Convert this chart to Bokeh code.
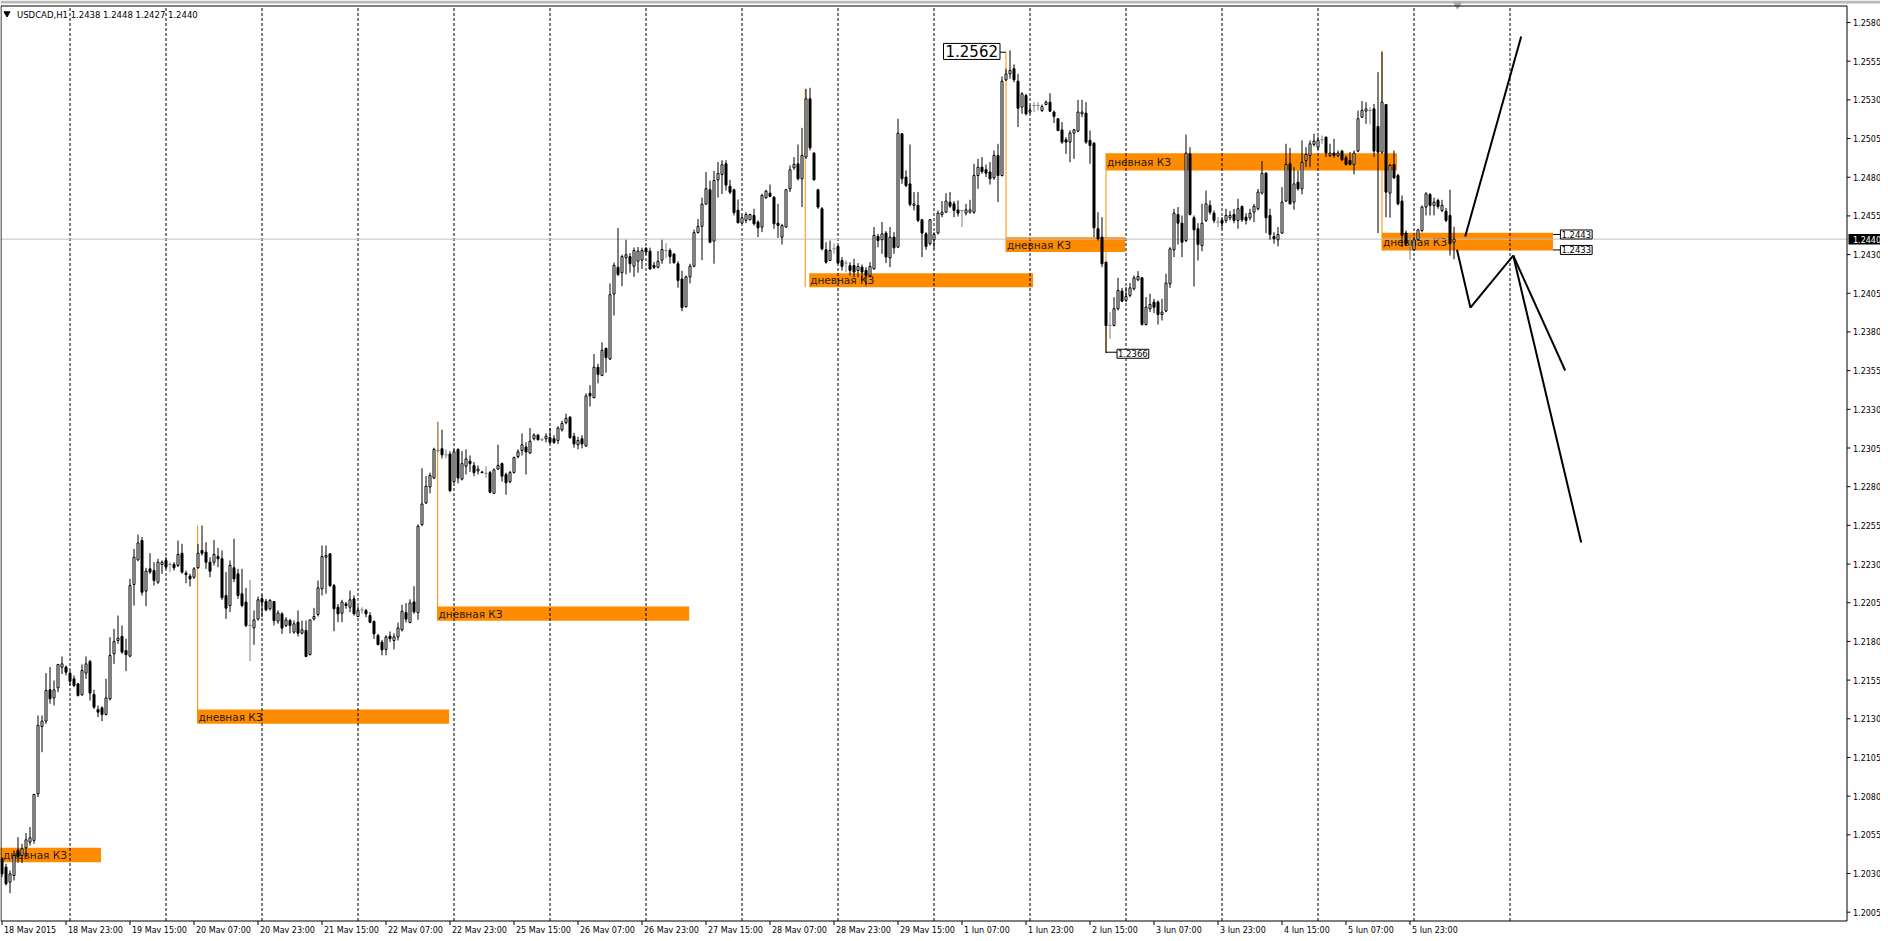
from bokeh.plotting import figure
from bokeh.models import Range1d, Label
from bokeh.embed import file_html
from bokeh.resources import INLINE
from bokeh.core.properties import value

# ---------------- data: USDCAD H1, bar index 0 = 18 May 2015 07:00 ----------------
OPEN = [
1.20395,1.20341,1.20244,1.20287,1.20450,1.20417,1.20466,1.20503,1.20514,1.20815,
1.21250,1.21285,1.21487,1.21435,1.21500,1.21634,1.21634,1.21595,1.21558,1.21526,
1.21455,1.21595,1.21670,1.21457,1.21360,1.21371,1.21328,1.21429,1.21720,1.21806,
1.21832,1.21741,1.21705,1.22168,1.22327,1.22452,1.22125,1.22269,1.22258,1.22183,
1.22297,1.22323,1.22297,1.22297,1.22291,1.22370,1.22241,1.22222,1.22215,1.22276,
1.22388,1.22377,1.22312,1.22312,1.22349,1.22334,1.22097,1.22032,1.22276,1.22237,
1.22108,1.22054,1.21903,1.21888,1.21944,1.22075,1.22058,1.22011,1.22058,1.21931,
1.21978,1.21903,1.21935,1.21860,1.21924,1.21853,1.21871,1.21715,1.21946,1.21974,
1.22140,1.22344,1.22366,1.22161,1.22021,1.21983,1.22043,1.22021,1.22075,1.21961,
1.22004,1.22000,1.21967,1.21929,1.21838,1.21795,1.21748,1.21834,1.21806,1.21829,
1.21875,1.21986,1.21922,1.22055,1.21986,1.22556,1.22695,1.22799,1.22856,1.23034,
1.23045,1.23006,1.23011,1.22833,1.23041,1.22849,1.22932,1.22965,1.22937,1.22902,
1.22895,1.22886,1.22891,1.22757,1.22914,1.22949,1.22879,1.22833,1.22891,1.22995,
1.23034,1.23057,1.23018,1.23110,1.23133,1.23103,1.23110,1.23117,1.23110,1.23099,
1.23168,1.23214,1.23249,1.23126,1.23071,1.23110,1.23064,1.23403,1.23376,1.23572,
1.23519,1.23694,1.23625,1.24045,1.24218,1.24183,1.24280,1.24287,1.24225,1.24257,
1.24264,1.24340,1.24322,1.24230,1.24218,1.24264,1.24326,1.24326,1.24303,1.24241,
1.24142,1.23964,1.24156,1.24225,1.24442,1.24483,1.24626,1.24719,1.24387,1.24783,
1.24818,1.24887,1.24742,1.24719,1.24587,1.24503,1.24521,1.24525,1.24553,1.24510,
1.24478,1.24667,1.24697,1.24671,1.24503,1.24413,1.24478,1.24725,1.24861,1.24887,
1.24790,1.24930,1.25307,1.24956,1.24719,1.24596,1.24331,1.24262,1.24337,1.24353,
1.24262,1.24245,1.24228,1.24230,1.24197,1.24219,1.24197,1.24165,1.24208,1.24417,
1.24396,1.24439,1.24279,1.24413,1.24348,1.25081,1.24801,1.24757,1.24618,1.24618,
1.24525,1.24434,1.24370,1.24396,1.24439,1.24559,1.24574,1.24639,1.24628,1.24589,
1.24585,1.24568,1.24574,1.24574,1.24811,1.24865,1.24848,1.24833,1.24796,1.24941,
1.24811,1.25429,1.25468,1.25501,1.25421,1.25253,1.25328,1.25221,1.25264,1.25264,
1.25231,1.25270,1.25285,1.25221,1.25178,1.25106,1.25042,1.25027,1.25085,1.25098,
1.25210,1.25214,1.25038,1.25020,1.24467,1.24413,1.24251,1.23842,1.23842,1.23950,
1.24064,1.24004,1.24036,1.24079,1.24137,1.24150,1.23848,1.23950,1.23993,1.23993,
1.23913,1.23935,1.24111,1.24331,1.24559,1.24503,1.24391,1.24951,1.24538,1.24467,
1.24359,1.24521,1.24618,1.24568,1.24510,1.24521,1.24521,1.24538,1.24559,1.24521,
1.24611,1.24542,1.24538,1.24574,1.24596,1.24697,1.24826,1.24553,1.24417,1.24396,
1.24439,1.24646,1.24887,1.24639,1.24768,1.24725,1.24908,1.24941,1.25012,1.24994,
1.25042,1.25059,1.24941,1.24956,1.24941,1.24969,1.24926,1.24908,1.24883,1.24969,
1.25188,1.25227,1.25231,1.25242,1.25128,1.24962,1.25270,1.24697,1.24882,1.24811,
1.24646,1.24439,1.24380,1.24331,1.24396,1.24456,1.24607,1.24689,1.24618,1.24650,
1.24585,1.24581,1.24553,1.24380]
HIGH = [
1.20406,1.20363,1.20319,1.20449,1.20535,1.20492,1.20561,1.20600,1.20815,1.21321,
1.21321,1.21595,1.21634,1.21547,1.21651,1.21703,1.21644,1.21612,1.21580,1.21530,
1.21651,1.21703,1.21681,1.21487,1.21386,1.21380,1.21558,1.21827,1.21881,1.21967,
1.21903,1.21817,1.22204,1.22398,1.22491,1.22474,1.22276,1.22370,1.22312,1.22334,
1.22323,1.22344,1.22312,1.22312,1.22452,1.22431,1.22258,1.22237,1.22280,1.22430,
1.22549,1.22441,1.22344,1.22456,1.22405,1.22388,1.22248,1.22323,1.22463,1.22269,
1.22269,1.22146,1.22198,1.22000,1.22090,1.22103,1.22075,1.22075,1.22060,1.22000,
1.21989,1.21957,1.21946,1.21935,1.22000,1.21935,1.21935,1.21939,1.22017,1.22194,
1.22420,1.22420,1.22370,1.22172,1.22043,1.22069,1.22054,1.22129,1.22097,1.22026,
1.22021,1.22011,1.21989,1.21935,1.21849,1.21810,1.21840,1.21864,1.21852,1.21922,
1.22037,1.22048,1.22072,1.22157,1.22556,1.22919,1.22868,1.22891,1.23052,1.23219,
1.23168,1.23041,1.23029,1.23041,1.23048,1.23030,1.23041,1.23002,1.22960,1.22937,
1.22902,1.22932,1.22902,1.22918,1.23071,1.22956,1.22891,1.22902,1.22995,1.23041,
1.23145,1.23087,1.23179,1.23145,1.23140,1.23117,1.23145,1.23179,1.23133,1.23191,
1.23226,1.23272,1.23256,1.23149,1.23122,1.23133,1.23403,1.23456,1.23657,1.23595,
1.23733,1.23699,1.24114,1.24248,1.24472,1.24299,1.24396,1.24310,1.24345,1.24349,
1.24345,1.24349,1.24345,1.24253,1.24322,1.24396,1.24373,1.24340,1.24310,1.24257,
1.24195,1.24165,1.24241,1.24461,1.24530,1.24668,1.24834,1.24779,1.24841,1.24899,
1.24910,1.24910,1.24783,1.24726,1.24656,1.24553,1.24574,1.24564,1.24596,1.24521,
1.24693,1.24719,1.24753,1.24676,1.24628,1.24499,1.24725,1.24876,1.24930,1.25012,
1.25119,1.25371,1.25378,1.24962,1.24725,1.24607,1.24380,1.24391,1.24370,1.24359,
1.24284,1.24262,1.24251,1.24273,1.24245,1.24236,1.24219,1.24251,1.24478,1.24434,
1.24510,1.24452,1.24478,1.24445,1.25178,1.25085,1.24844,1.25012,1.24704,1.24704,
1.24531,1.24445,1.24531,1.24445,1.24585,1.24646,1.24697,1.24704,1.24646,1.24650,
1.24589,1.24628,1.24654,1.24887,1.24919,1.24930,1.24882,1.24898,1.24973,1.25016,
1.25451,1.25501,1.25620,1.25529,1.25468,1.25350,1.25339,1.25264,1.25285,1.25285,
1.25270,1.25296,1.25343,1.25231,1.25178,1.25156,1.25059,1.25102,1.25113,1.25300,
1.25300,1.25285,1.25102,1.25027,1.24574,1.24542,1.24251,1.23928,1.24025,1.24150,
1.24085,1.24090,1.24116,1.24165,1.24193,1.24154,1.24025,1.24047,1.24014,1.24004,
1.24014,1.24176,1.24348,1.24596,1.24607,1.24553,1.25076,1.24994,1.24553,1.24503,
1.24628,1.24714,1.24650,1.24585,1.24542,1.24542,1.24596,1.24581,1.24596,1.24661,
1.24618,1.24568,1.24596,1.24628,1.24725,1.24904,1.24833,1.24596,1.24445,1.24478,
1.24736,1.25016,1.24990,1.24865,1.24844,1.25038,1.24994,1.25038,1.25081,1.25063,
1.25070,1.25063,1.25016,1.25048,1.24973,1.24977,1.24941,1.24962,1.24973,1.25231,
1.25292,1.25285,1.25253,1.25274,1.25479,1.25610,1.25274,1.24887,1.24973,1.24822,
1.24682,1.24456,1.24424,1.24413,1.24467,1.24618,1.24704,1.24697,1.24667,1.24661,
1.24654,1.24602,1.24719,1.24480]
LOW = [
1.20277,1.20223,1.20173,1.20255,1.20370,1.20367,1.20406,1.20481,1.20492,1.20794,
1.21084,1.21267,1.21397,1.21386,1.21472,1.21590,1.21580,1.21515,1.21504,1.21444,
1.21448,1.21558,1.21418,1.21364,1.21311,1.21285,1.21321,1.21418,1.21655,1.21784,
1.21720,1.21608,1.21698,1.22032,1.22319,1.22097,1.22028,1.22237,1.22161,1.22172,
1.22237,1.22269,1.22248,1.22258,1.22280,1.22237,1.22176,1.22155,1.22204,1.22269,
1.22355,1.22269,1.22215,1.22291,1.22280,1.22069,1.21946,1.21989,1.22183,1.22075,
1.22021,1.21892,1.21672,1.21778,1.21935,1.21957,1.21995,1.22000,1.21903,1.21914,
1.21849,1.21892,1.21853,1.21849,1.21832,1.21845,1.21698,1.21709,1.21935,1.21961,
1.22097,1.22108,1.22151,1.21866,1.21924,1.21924,1.22011,1.21989,1.21967,1.21957,
1.21978,1.21957,1.21918,1.21817,1.21774,1.21710,1.21710,1.21795,1.21748,1.21806,
1.21864,1.21922,1.21917,1.21979,1.21940,1.22545,1.22688,1.22757,1.22849,1.23018,
1.22983,1.22983,1.22764,1.22822,1.22822,1.22840,1.22879,1.22895,1.22868,1.22879,
1.22886,1.22856,1.22757,1.22752,1.22909,1.22833,1.22748,1.22822,1.22886,1.22983,
1.23002,1.22879,1.23011,1.23099,1.23099,1.23094,1.23087,1.23076,1.23076,1.23076,
1.23156,1.23203,1.23110,1.23052,1.23041,1.23048,1.23057,1.23318,1.23371,1.23468,
1.23514,1.23537,1.23618,1.23906,1.24161,1.24096,1.24172,1.24183,1.24156,1.24183,
1.24207,1.24299,1.24202,1.24207,1.24211,1.24241,1.24276,1.24241,1.24241,1.24086,
1.23934,1.23957,1.24114,1.24218,1.24437,1.24264,1.24622,1.24373,1.24241,1.24668,
1.24691,1.24714,1.24691,1.24553,1.24502,1.24499,1.24503,1.24521,1.24488,1.24413,
1.24445,1.24661,1.24671,1.24467,1.24409,1.24365,1.24473,1.24704,1.24848,1.24779,
1.24607,1.24919,1.24973,1.24779,1.24596,1.24327,1.24241,1.24258,1.24305,1.24241,
1.24197,1.24187,1.24165,1.24154,1.24154,1.24133,1.24100,1.24154,1.24202,1.24348,
1.24305,1.24245,1.24219,1.24305,1.24344,1.24757,1.24736,1.24611,1.24585,1.24510,
1.24284,1.24331,1.24359,1.24337,1.24430,1.24542,1.24568,1.24602,1.24542,1.24546,
1.24478,1.24553,1.24564,1.24564,1.24725,1.24822,1.24801,1.24753,1.24783,1.24639,
1.24805,1.25421,1.25436,1.25414,1.25124,1.25210,1.25199,1.25210,1.25221,1.25231,
1.25221,1.25264,1.25221,1.25150,1.25098,1.25016,1.24951,1.24897,1.24919,1.25091,
1.25188,1.25016,1.24887,1.24413,1.24391,1.24219,1.23663,1.23756,1.23836,1.23939,
1.23993,1.23993,1.24025,1.24068,1.24129,1.23842,1.23842,1.23928,1.23922,1.23848,
1.23874,1.23928,1.24085,1.24284,1.24365,1.24284,1.24380,1.24553,1.24094,1.24262,
1.24322,1.24510,1.24559,1.24503,1.24478,1.24467,1.24503,1.24521,1.24503,1.24467,
1.24510,1.24495,1.24521,1.24510,1.24585,1.24689,1.24439,1.24396,1.24370,1.24353,
1.24434,1.24639,1.24624,1.24590,1.24714,1.24689,1.24865,1.24865,1.24999,1.24977,
1.25016,1.24930,1.24930,1.24926,1.24930,1.24904,1.24876,1.24876,1.24818,1.24962,
1.25184,1.25145,1.25141,1.24930,1.24439,1.24951,1.24542,1.24538,1.24790,1.24618,
1.24348,1.24359,1.24266,1.24327,1.24391,1.24445,1.24553,1.24553,1.24553,1.24596,
1.24574,1.24510,1.24294,1.24270]
CLOSE = [
1.20298,1.20234,1.20298,1.20417,1.20410,1.20460,1.20518,1.20531,1.20811,1.21257,
1.21285,1.21483,1.21429,1.21487,1.21651,1.21655,1.21601,1.21543,1.21515,1.21451,
1.21612,1.21655,1.21466,1.21375,1.21343,1.21328,1.21435,1.21709,1.21799,1.21821,
1.21731,1.21715,1.22161,1.22344,1.22437,1.22118,1.22254,1.22248,1.22194,1.22312,
1.22312,1.22280,1.22297,1.22276,1.22362,1.22248,1.22232,1.22204,1.22269,1.22370,
1.22370,1.22312,1.22254,1.22362,1.22334,1.22082,1.22015,1.22291,1.22204,1.22097,
1.22032,1.21903,1.21903,1.21939,1.22069,1.22054,1.22004,1.22064,1.21935,1.21983,
1.21886,1.21939,1.21903,1.21914,1.21853,1.21875,1.21703,1.21939,1.21961,1.22146,
1.22349,1.22355,1.22161,1.22011,1.21978,1.22054,1.22032,1.22069,1.21978,1.22000,
1.22004,1.21978,1.21924,1.21849,1.21780,1.21745,1.21829,1.21818,1.21829,1.21887,
1.21995,1.21944,1.22048,1.21991,1.22545,1.22688,1.22803,1.22872,1.23041,1.23034,
1.23006,1.23006,1.22775,1.23025,1.22856,1.22949,1.22979,1.22949,1.22891,1.22914,
1.22891,1.22886,1.22764,1.22909,1.22937,1.22868,1.22826,1.22891,1.22988,1.23025,
1.23071,1.23025,1.23094,1.23133,1.23103,1.23103,1.23126,1.23087,1.23087,1.23179,
1.23209,1.23242,1.23117,1.23076,1.23099,1.23076,1.23387,1.23387,1.23572,1.23526,
1.23681,1.23634,1.24041,1.24230,1.24172,1.24287,1.24299,1.24241,1.24326,1.24322,
1.24326,1.24317,1.24207,1.24218,1.24257,1.24333,1.24326,1.24287,1.24248,1.24133,
1.23957,1.24156,1.24225,1.24442,1.24483,1.24626,1.24726,1.24380,1.24779,1.24825,
1.24881,1.24749,1.24703,1.24571,1.24506,1.24538,1.24559,1.24559,1.24499,1.24473,
1.24682,1.24710,1.24676,1.24499,1.24488,1.24488,1.24719,1.24848,1.24883,1.24790,
1.24941,1.25307,1.24990,1.24783,1.24607,1.24337,1.24251,1.24327,1.24337,1.24245,
1.24223,1.24245,1.24197,1.24187,1.24223,1.24187,1.24165,1.24223,1.24424,1.24391,
1.24434,1.24284,1.24413,1.24344,1.25085,1.24790,1.24747,1.24624,1.24628,1.24521,
1.24439,1.24353,1.24525,1.24430,1.24568,1.24574,1.24646,1.24613,1.24585,1.24568,
1.24585,1.24589,1.24589,1.24811,1.24865,1.24837,1.24826,1.24790,1.24941,1.24811,
1.25421,1.25468,1.25490,1.25430,1.25246,1.25339,1.25210,1.25231,1.25264,1.25264,
1.25257,1.25285,1.25227,1.25193,1.25102,1.25027,1.25027,1.25085,1.25106,1.25221,
1.25221,1.25027,1.25005,1.24473,1.24402,1.24241,1.23842,1.23842,1.23950,1.24068,
1.23999,1.24029,1.24085,1.24150,1.24159,1.23848,1.23960,1.23978,1.23960,1.23913,
1.23928,1.24116,1.24337,1.24568,1.24503,1.24380,1.24956,1.24559,1.24460,1.24365,
1.24503,1.24628,1.24574,1.24521,1.24510,1.24503,1.24553,1.24553,1.24521,1.24596,
1.24525,1.24521,1.24568,1.24611,1.24704,1.24826,1.24538,1.24430,1.24402,1.24430,
1.24639,1.24883,1.24628,1.24757,1.24725,1.24897,1.24947,1.25016,1.25033,1.25038,
1.25042,1.24956,1.24956,1.24941,1.24956,1.24913,1.24883,1.24883,1.24956,1.25178,
1.25231,1.25242,1.25231,1.24969,1.24962,1.25285,1.24704,1.24876,1.24796,1.24628,
1.24424,1.24370,1.24380,1.24396,1.24460,1.24607,1.24693,1.24618,1.24639,1.24611,
1.24618,1.24521,1.24370,1.24400]

TIME_TICK_BARS = [0, 16, 32, 48, 64, 80, 96, 112, 128, 144, 160, 176, 192, 208, 224,
                  240, 256, 272, 288, 304, 320, 336, 352]
TIME_TICK_TEXT = ["18 May 2015", "18 May 23:00", "19 May 15:00", "20 May 07:00", "20 May 23:00",
                  "21 May 15:00", "22 May 07:00", "22 May 23:00", "25 May 15:00",
                  "26 May 07:00", "26 May 23:00", "27 May 15:00", "28 May 07:00",
                  "28 May 23:00", "29 May 15:00", "1 Jun 07:00", "1 Jun 23:00",
                  "2 Jun 15:00", "3 Jun 07:00", "3 Jun 23:00", "4 Jun 15:00",
                  "5 Jun 07:00", "5 Jun 23:00"]
DAY_START_BARS = [17, 41, 65, 89, 113, 137, 161, 185, 209, 233, 257, 281, 305, 329, 353, 377]
PRICE_TICKS = [1.2005, 1.2030, 1.2055, 1.2080, 1.2105, 1.2130, 1.2155, 1.2180, 1.2205,
               1.2230, 1.2255, 1.2280, 1.2305, 1.2330, 1.2355, 1.2380, 1.2405, 1.2430,
               1.2455, 1.2480, 1.2505, 1.2530, 1.2555, 1.2580]
BID = 1.2440
TITLE = "USDCAD,H1  1.2438 1.2448 1.2427 1.2440"

# daily zones ("дневная КЗ")
ZONE_TEXT = "дневная КЗ"
ZONE_LEFT = [-1.0, 48.9, 108.9, 201.8, 251.0, 276.0, 345.0]
ZONE_RIGHT = [24.75, 111.8, 171.8, 257.75, 280.8, 348.75, 387.75]
ZONE_TOP = [1.20466, 1.21360, 1.22026, 1.24180, 1.24412, 1.24955, 1.24441]
ZONE_BOTTOM = [1.20373, 1.21268, 1.21933, 1.24089, 1.24316, 1.24843, 1.24327]
ZLINE_X = [48.9, 108.9, 200.8, 251.0, 276.0, 345.0]
ZLINE_Y0 = [1.22549, 1.23219, 1.25372, 1.25608, 1.24955, 1.25619]
ZLINE_Y1 = [1.21268, 1.21933, 1.24089, 1.24316, 1.23669, 1.24327]

# hand-drawn forecast lines
UP_X = [365.8, 379.8]
UP_Y = [1.24417, 1.25710]
ZIG_X = [363.75, 367.1, 377.8]
ZIG_Y = [1.24331, 1.23958, 1.24294]
DN1_X = [377.8, 390.8]
DN1_Y = [1.24294, 1.23551]
DN2_X = [377.8, 394.8]
DN2_Y = [1.24294, 1.22439]

# ---------------- figure (frame = whole canvas; chart box drawn by hand) ----------------
ORANGE = "#FF8C00"
FONT = "DejaVu Sans"
W, H = 1880, 933
PXB = 4.0          # pixels per bar
PXP = 15473.0      # pixels per unit of price
X0 = -1.5 / PXB                 # bar at canvas left (bar i centred at 1.5 + 4 i px)
X1 = X0 + W / PXB
Y1 = 1.2580 + 22 / PXP          # price at canvas top
Y0 = Y1 - H / PXP

def bx_(px):      # canvas x -> bar units
    return X0 + px / PXB

def py_(py):      # canvas y (from top) -> price
    return Y1 - py / PXP

p = figure(width=W, height=H, output_backend="svg", toolbar_location=None,
           x_range=Range1d(X0, X1), y_range=Range1d(Y0, Y1),
           x_axis_type=None, y_axis_type=None,
           min_border_left=0, min_border_top=0, min_border_right=0, min_border_bottom=0)
p.outline_line_color = None
p.background_fill_color = "white"
p.border_fill_color = "white"

C_L, C_R, C_T, C_B = bx_(0.5), bx_(1846.5), py_(5.5), py_(920.5)

# window strip at top
p.quad(left=[X0], right=[X1], top=[Y1], bottom=[py_(3)], fill_color="#B9B9B9", line_color=None)

# zones
p.quad(left=ZONE_LEFT, right=ZONE_RIGHT, top=ZONE_TOP, bottom=ZONE_BOTTOM,
       fill_color=ORANGE, line_color=None)
p.segment(x0=ZLINE_X, y0=ZLINE_Y0, x1=ZLINE_X, y1=ZLINE_Y1, line_color=ORANGE, line_width=1)
zmid = [(a + b) / 2 for a, b in zip(ZONE_TOP, ZONE_BOTTOM)]
p.text(x=[max(z, bx_(1.5)) for z in ZONE_LEFT], y=zmid, text=[ZONE_TEXT] * len(ZONE_LEFT),
       x_offset=1, text_font=value(FONT), text_font_size="10.5px", text_baseline="middle",
       text_color="#2a1a10")

# grid (day starts) and bid line
p.segment(x0=DAY_START_BARS, y0=[C_B] * len(DAY_START_BARS), x1=DAY_START_BARS,
          y1=[C_T] * len(DAY_START_BARS), line_color="black", line_width=1, line_dash="3 2")
p.segment(x0=[C_L], y0=[BID], x1=[C_R], y1=[BID], line_color="#C0C0C0", line_width=1)

# candles
n = len(CLOSE)
idx = list(range(n))
doji = [OPEN[i] == CLOSE[i] for i in idx]
wick_col = ["#808080" if d else "black" for d in doji]
p.segment(x0=idx, y0=LOW, x1=idx, y1=HIGH, line_color=wick_col, line_width=1)
bx = [i for i in idx if not doji[i]]
btop = [max(OPEN[i], CLOSE[i]) for i in bx]
bbot = [min(OPEN[i], CLOSE[i]) for i in bx]
bfill = ["white" if CLOSE[i] > OPEN[i] else "black" for i in bx]
p.vbar(x=bx, top=btop, bottom=bbot, width=0.5, fill_color=bfill, line_color="black",
       line_width=1)
dx = [i for i in idx if doji[i]]
p.segment(x0=[i - 0.4 for i in dx], y0=[CLOSE[i] for i in dx], x1=[i + 0.4 for i in dx],
          y1=[CLOSE[i] for i in dx], line_color="#808080", line_width=1)

# forecast lines
for xs, ys in [(UP_X, UP_Y), (ZIG_X, ZIG_Y), (DN1_X, DN1_Y), (DN2_X, DN2_Y)]:
    p.line(xs, ys, line_color="black", line_width=2)

# chart-shift marker
p.scatter(x=[bx_(1457)], y=[py_(4)], marker="inverted_triangle", size=8,
          fill_color="#A8A8A8", line_color="#A8A8A8")

# price marker connectors
p.segment(x0=[248.3, 276.0, 387.75, 387.75], y0=[1.25608, 1.23669, 1.24430, 1.24330],
          x1=[251.0, 278.75, 389.6, 389.6], y1=[1.25608, 1.23669, 1.24430, 1.24330],
          line_color="black", line_width=1)

def box(x, y, text, size, pad=2):
    lab = Label(x=x, y=y, text=text, text_font=FONT, text_font_size=size,
                text_align="left", text_baseline="middle", text_color="black",
                background_fill_color="white", border_line_color="black",
                border_line_width=1, padding=pad)
    p.add_layout(lab)

box(bx_(943), 1.25613, "1.2562", "15px", pad=2)
box(278.75, 1.23659, "1.2366", "8.5px", pad=1)
box(389.6, 1.24430, "1.2443", "8.5px", pad=1)
box(389.6, 1.24330, "1.2433", "8.5px", pad=1)

# chart border
p.segment(x0=[C_L, C_L, C_L, C_R], y0=[C_T, C_B, C_B, C_B],
          x1=[C_R, C_R, C_L, C_R], y1=[C_T, C_B, C_T, C_T],
          line_color="black", line_width=1)

# title
p.scatter(x=[bx_(6.5)], y=[py_(13)], marker="inverted_triangle", size=6,
          fill_color="black", line_color="black")
p.text(x=[bx_(16.5)], y=[py_(14)], text=[TITLE], text_font=value(FONT),
       text_font_size="8.5px", text_baseline="middle", text_color="black")

# price scale (right)
p.segment(x0=[C_R] * len(PRICE_TICKS), y0=PRICE_TICKS, x1=[bx_(1850)] * len(PRICE_TICKS),
          y1=PRICE_TICKS, line_color="black", line_width=1)
p.text(x=[bx_(1852.5)] * len(PRICE_TICKS), y=PRICE_TICKS,
       text=["%.4f" % v for v in PRICE_TICKS], text_font=value(FONT),
       text_font_size="8px", text_baseline="middle", text_color="black")
p.quad(left=[bx_(1848)], right=[bx_(1884)], top=[py_(233.5)], bottom=[py_(244)],
       fill_color="black", line_color=None)
p.text(x=[bx_(1852.5)], y=[BID], text=["%.4f" % BID], text_font=value(FONT),
       text_font_size="8px", text_baseline="middle", text_color="white")

# time scale (bottom)
p.segment(x0=TIME_TICK_BARS, y0=[C_B] * len(TIME_TICK_BARS), x1=TIME_TICK_BARS,
          y1=[py_(924.5)] * len(TIME_TICK_BARS), line_color="black", line_width=1)
p.text(x=TIME_TICK_BARS, y=[py_(929.5)] * len(TIME_TICK_BARS), text=TIME_TICK_TEXT,
       x_offset=2, text_font=value(FONT), text_font_size="8px", text_baseline="middle",
       text_color="black")

open("out.html", "w").write(file_html(p, INLINE))
